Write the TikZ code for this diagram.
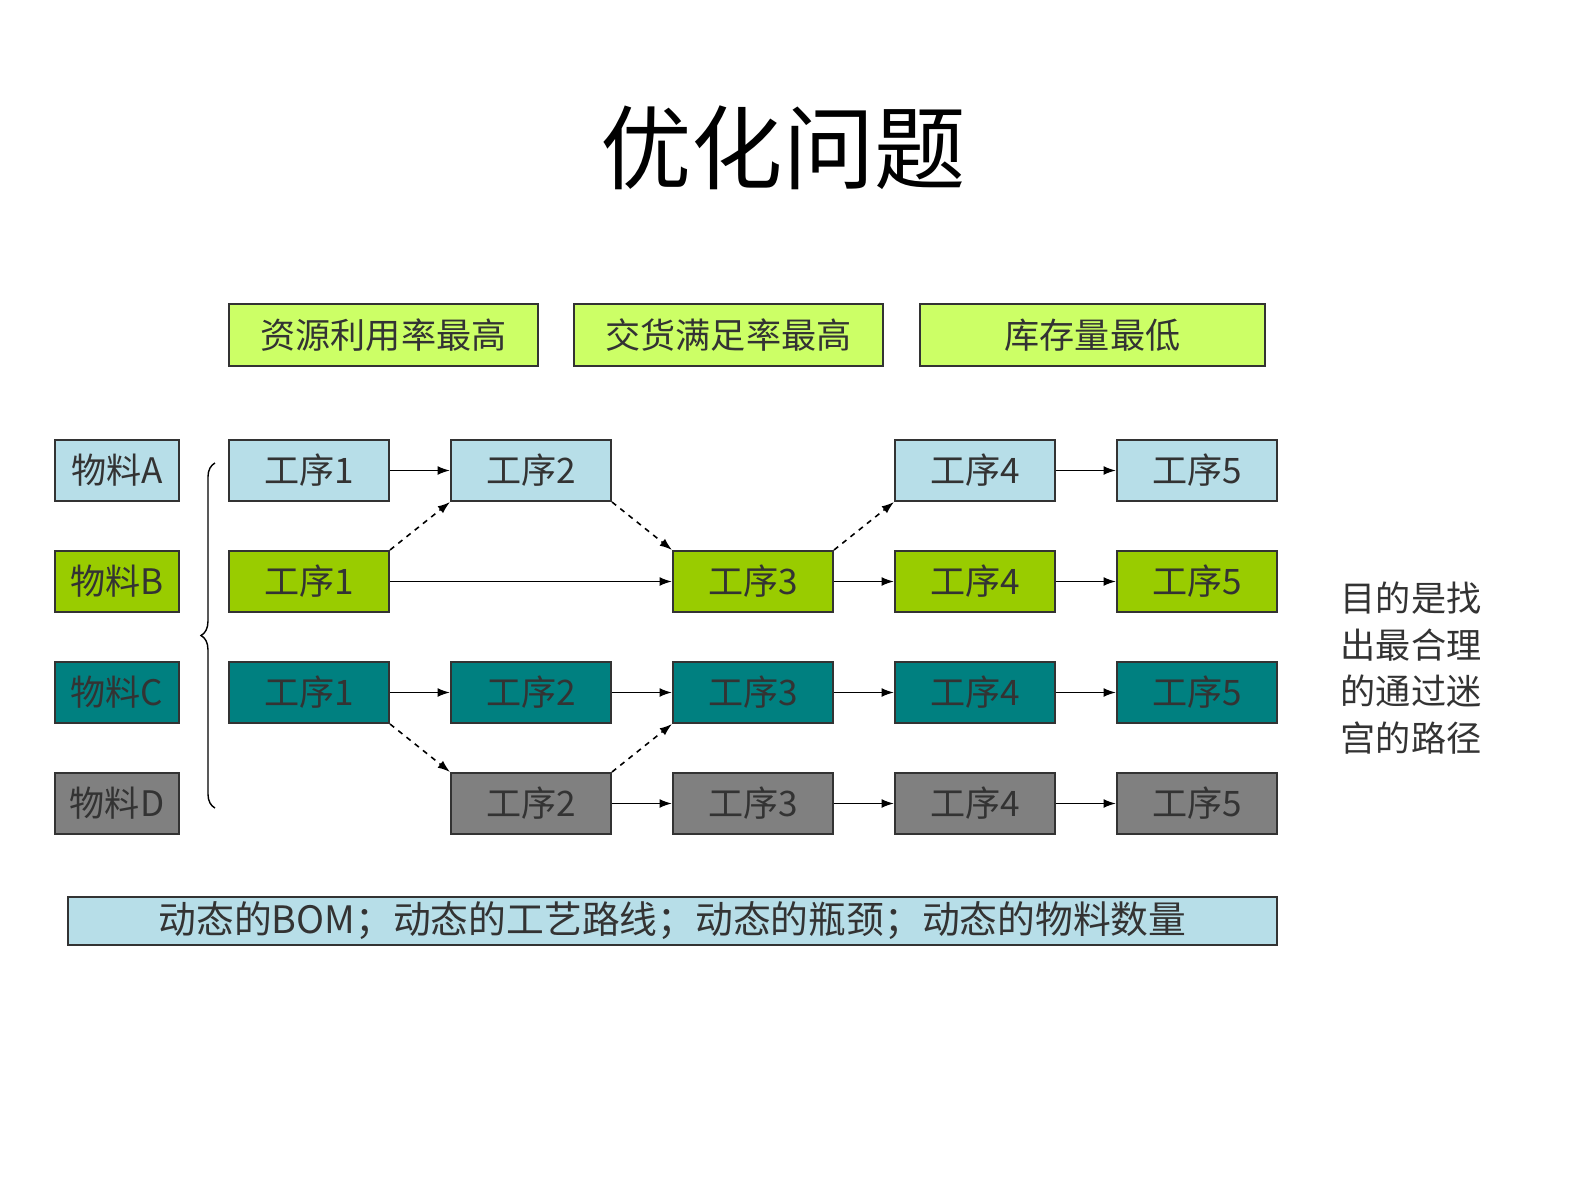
\documentclass[tikz,border=0pt]{standalone}
\usepackage{fontspec}
\setmainfont{Liberation Sans}
\newfontfamily\cjk{Noto Sans CJK SC}
\usetikzlibrary{arrows.meta,decorations.pathreplacing}
\definecolor{lb}{HTML}{B7DEE8}
\definecolor{gr}{HTML}{99CC00}
\definecolor{tl}{HTML}{008080}
\definecolor{gy}{HTML}{808080}
\definecolor{yg}{HTML}{CCFF66}
\definecolor{tx}{HTML}{333333}
\begin{document}
\begin{tikzpicture}[x=0.02cm,y=-0.02cm,
 bx/.style={draw=black!80,line width=1.2pt,minimum width=3.2cm,minimum height=1.22cm,inner sep=0pt,font=\fontsize{20}{22}\selectfont\cjk,text=tx},
 mat/.style={bx,minimum width=2.48cm},
 top/.style={bx,fill=yg,minimum width=6.18cm,minimum height=1.24cm},
 ar/.style={-{Latex[length=7pt,width=5pt]},line width=0.9pt},
 da/.style={ar,dashed}]
\useasboundingbox (0,0) rectangle (1587,1190);
\node[font=\fontsize{52}{56}\selectfont\cjk] (title) at (783,148) {优化问题};
\node[top] (t1) at (383.5,335) {资源利用率最高};
\node[top] (t2) at (728.5,335) {交货满足率最高};
\node[top,minimum width=6.9cm] (t3) at (1092.5,335) {库存量最低};
\node[mat,fill=lb] (mA) at (117,470.5) {物料A};
\node[mat,fill=gr] (mB) at (117,581.5) {物料B};
\node[mat,fill=tl] (mC) at (117,692.5) {物料C};
\node[mat,fill=gy] (mD) at (117,803.5) {物料D};
\draw[line width=0.8pt,decorate,decoration={brace,amplitude=8pt,mirror}] (215,463) -- (215,808) coordinate (bre);
% row A
\node[bx,fill=lb] (A1) at (309,470.5) {工序1};
\node[bx,fill=lb] (A2) at (531,470.5) {工序2};
\node[bx,fill=lb] (A4) at (975,470.5) {工序4};
\node[bx,fill=lb] (A5) at (1197,470.5) {工序5};
% row B
\node[bx,fill=gr] (B1) at (309,581.5) {工序1};
\node[bx,fill=gr] (B3) at (753,581.5) {工序3};
\node[bx,fill=gr] (B4) at (975,581.5) {工序4};
\node[bx,fill=gr] (B5) at (1197,581.5) {工序5};
% row C
\node[bx,fill=tl] (C1) at (309,692.5) {工序1};
\node[bx,fill=tl] (C2) at (531,692.5) {工序2};
\node[bx,fill=tl] (C3) at (753,692.5) {工序3};
\node[bx,fill=tl] (C4) at (975,692.5) {工序4};
\node[bx,fill=tl] (C5) at (1197,692.5) {工序5};
% row D
\node[bx,fill=gy] (D2) at (531,803.5) {工序2};
\node[bx,fill=gy] (D3) at (753,803.5) {工序3};
\node[bx,fill=gy] (D4) at (975,803.5) {工序4};
\node[bx,fill=gy] (D5) at (1197,803.5) {工序5};
\draw[ar] (A1.east) -- (A2.west);
\draw[ar] (A4.east) -- (A5.west);
\draw[ar] (B1.east) -- (B3.west);
\draw[ar] (B3.east) -- (B4.west);
\draw[ar] (B4.east) -- (B5.west);
\draw[ar] (C1.east) -- (C2.west);
\draw[ar] (C2.east) -- (C3.west);
\draw[ar] (C3.east) -- (C4.west);
\draw[ar] (C4.east) -- (C5.west);
\draw[ar] (D2.east) -- (D3.west);
\draw[ar] (D3.east) -- (D4.west);
\draw[ar] (D4.east) -- (D5.west);
\draw[da] (B1.north east) -- (A2.south west);
\draw[da] (A2.south east) -- (B3.north west);
\draw[da] (B3.north east) -- (A4.south west);
\draw[da] (C1.south east) -- (D2.north west);
\draw[da] (D2.north east) -- (C3.south west);
\node[draw=black!80,line width=1.2pt,fill=lb,minimum width=24.18cm,minimum height=0.96cm,inner sep=0pt,font=\fontsize{21.5}{23}\selectfont\cjk,text=tx] (bot) at (672.5,921) {动态的BOM；动态的工艺路线；动态的瓶颈；动态的物料数量};
\node[align=left,font=\fontsize{20}{26.5}\selectfont\cjk,text=tx] (goal) at (1411,668) {目的是找\\出最合理\\的通过迷\\宫的路径};
\end{tikzpicture}
\end{document}
